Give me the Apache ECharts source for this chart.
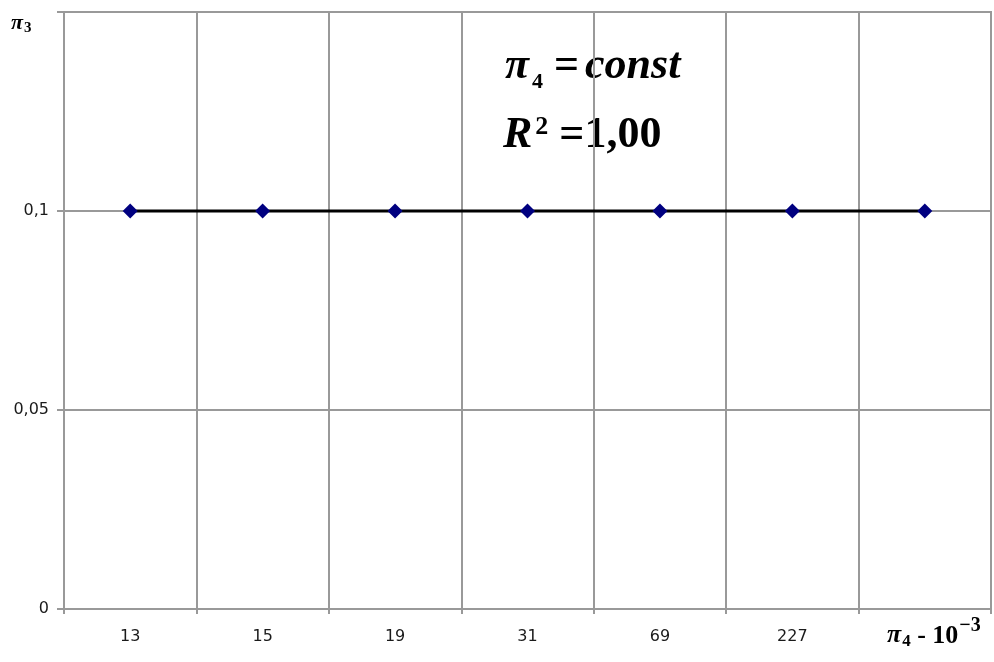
<!DOCTYPE html>
<html>
<head>
<meta charset="utf-8">
<script src="https://cdn.jsdelivr.net/npm/echarts@6/dist/echarts.min.js"></script>
<style>
  html, body { margin: 0; padding: 0; background: #fff; }
  #chart { width: 994px; height: 662px; }
</style>
</head>
<body>
<div id="chart"></div>
<script>
// 数据
var categories = ['13', '15', '19', '31', '69', '227', ''];
var pi3Values = [0.1, 0.1, 0.1, 0.1, 0.1, 0.1, 0.1];
var yTicks = [0, 0.05, 0.1, 0.15];

var myChart = echarts.init(document.getElementById('chart'));

var gridColor = '#999999';
var serif = '"Liberation Serif", "DejaVu Serif", serif';
var labelFont = 'Tahoma, "DejaVu Sans", sans-serif';

var option = {
  backgroundColor: '#ffffff',
  animation: false,
  grid: {
    left: 64,
    right: 3,
    top: 12,
    bottom: 53,
    show: true,
    borderColor: gridColor,
    borderWidth: 2
  },
  xAxis: {
    type: 'category',
    data: categories,
    boundaryGap: true,
    axisLine: { show: true, lineStyle: { color: gridColor, width: 2 } },
    axisTick: { show: true, interval: 0, length: 5, lineStyle: { color: gridColor, width: 2 } },
    axisLabel: {
      interval: 0,
      margin: 20,
      color: '#1a1a1a',
      fontSize: 16,
      fontFamily: labelFont
    },
    splitLine: { show: true, interval: 0, lineStyle: { color: gridColor, width: 2 } }
  },
  yAxis: {
    type: 'value',
    min: yTicks[0],
    max: yTicks[yTicks.length - 1],
    interval: 0.05,
    axisLine: { show: true, lineStyle: { color: gridColor, width: 2 } },
    axisTick: { show: true, length: 7, lineStyle: { color: gridColor, width: 2 } },
    axisLabel: {
      margin: 15,
      color: '#1a1a1a',
      fontSize: 16,
      fontFamily: labelFont,
      formatter: function (v) {
        if (v >= 0.15) return '';
        return String(+v.toFixed(2)).replace('.', ',');
      }
    },
    splitLine: { show: true, lineStyle: { color: gridColor, width: 2 } }
  },
  series: [
    {
      type: 'line',
      data: pi3Values,
      symbol: 'diamond',
      symbolSize: 15,
      itemStyle: { color: '#000080' },
      lineStyle: { color: '#000000', width: 3 },
      z: 5
    }
  ],
  graphic: [
    {
      type: 'text',
      left: 11,
      top: 12,
      style: {
        text: '{p|π}{s|3}',
        rich: {
          p: { fontFamily: serif, fontStyle: 'italic', fontWeight: 'bold', fontSize: 22, fill: '#000' },
          s: { fontFamily: serif, fontWeight: 'bold', fontSize: 15, fill: '#000', padding: [11, 0, 0, 1] }
        }
      }
    },
    {
      type: 'text',
      left: 505,
      top: 45,
      style: {
        text: '{p|π}{s|4}{t| =}{c|const}',
        rich: {
          p: { fontFamily: serif, fontStyle: 'italic', fontWeight: 'bold', fontSize: 44, fill: '#000' },
          s: { fontFamily: serif, fontWeight: 'bold', fontSize: 22, fill: '#000', padding: [30, 0, 0, 3] },
          t: { fontFamily: serif, fontWeight: 'bold', fontSize: 44, fill: '#000' },
          c: { fontFamily: serif, fontStyle: 'italic', fontWeight: 'bold', fontSize: 44, fill: '#000', padding: [0, 0, 0, 6] }
        }
      }
    },
    {
      type: 'text',
      left: 503,
      top: 114,
      style: {
        text: '{r|R}{s|2}{t| =1,00}',
        rich: {
          r: { fontFamily: serif, fontStyle: 'italic', fontWeight: 'bold', fontSize: 44, fill: '#000' },
          s: { fontFamily: serif, fontWeight: 'bold', fontSize: 26, fill: '#000', padding: [0, 0, 18, 3] },
          t: { fontFamily: serif, fontWeight: 'bold', fontSize: 44, fill: '#000' }
        }
      }
    },
    {
      type: 'text',
      left: 887,
      top: 616,
      style: {
        text: '{p|π}{s|4}{t| - 10}{e|−3}',
        rich: {
          p: { fontFamily: serif, fontStyle: 'italic', fontWeight: 'bold', fontSize: 26, fill: '#000' },
          s: { fontFamily: serif, fontWeight: 'bold', fontSize: 17, fill: '#000', padding: [14, 0, 0, 1] },
          t: { fontFamily: serif, fontWeight: 'bold', fontSize: 26, fill: '#000', padding: [2, 0, 0, 0] },
          e: { fontFamily: serif, fontWeight: 'bold', fontSize: 20, fill: '#000', padding: [0, 0, 18, 1] }
        }
      }
    }
  ]
};

myChart.setOption(option);
</script>
</body>
</html>
